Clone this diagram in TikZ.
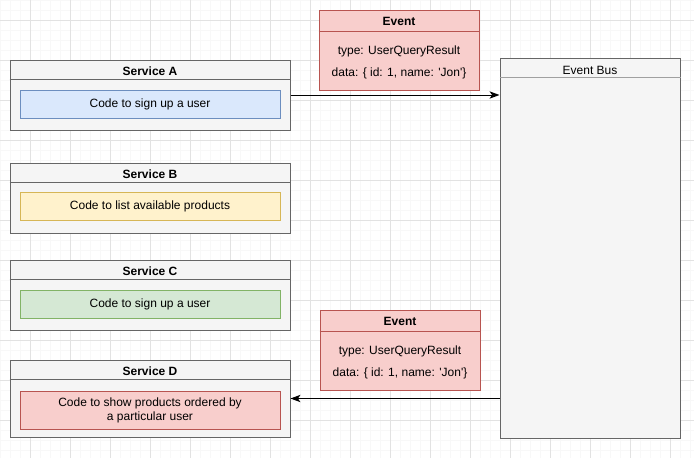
\documentclass[tikz,border=0pt]{standalone}
\usepackage{fontspec}
\setmainfont{Liberation Sans}
\usetikzlibrary{arrows.meta}

\definecolor{gridmajor}{HTML}{E2E2E2}
\definecolor{gridminor}{HTML}{F8F8F8}
\definecolor{boxfill}{HTML}{F5F5F5}
\definecolor{boxline}{HTML}{666666}
\definecolor{busline}{HTML}{A0A0A0}
\definecolor{bluefill}{HTML}{DAE8FC}
\definecolor{blueline}{HTML}{6C8EBF}
\definecolor{yellowfill}{HTML}{FFF2CC}
\definecolor{yellowline}{HTML}{D6B656}
\definecolor{greenfill}{HTML}{D5E8D4}
\definecolor{greenline}{HTML}{82B366}
\definecolor{redfill}{HTML}{F8CECC}
\definecolor{redline}{HTML}{B85450}

\tikzset{
  svcbox/.style={draw=boxline, fill=boxfill, line width=0.75pt, minimum width=210pt, minimum height=52.5pt, inner sep=0pt},
  heading/.style={font=\fontsize{9}{10.5}\selectfont\bfseries},
  bodytext/.style={font=\fontsize{9}{10.5}\selectfont},
  codebox/.style={bodytext, line width=0.75pt, minimum width=195pt, minimum height=21pt, inner sep=0pt, align=center},
  eventbox/.style={draw=redline, fill=redfill, line width=0.75pt, minimum width=120pt, minimum height=60pt, inner sep=0pt},
  msgarrow/.style={-{Stealth[length=7.5pt,width=5.5pt,inset=2pt]}, line width=0.75pt},
}

\begin{document}
\begin{tikzpicture}[x=0.75pt, y=-0.75pt]

\useasboundingbox (0,0) rectangle (694,458);

% background grid, 10px minor lines and 40px major lines
\foreach \gx in {0,10,...,690} \draw[gridminor, line width=0.75pt] (\gx,0) -- (\gx,458);
\foreach \gy in {0,10,...,450} \draw[gridminor, line width=0.75pt] (0,\gy) -- (694,\gy);
\foreach \gx in {30,70,...,670} \draw[gridmajor, line width=0.75pt] (\gx,0) -- (\gx,458);
\foreach \gy in {20,60,...,420} \draw[gridmajor, line width=0.75pt] (0,\gy) -- (694,\gy);

% services
\node[svcbox] (sa) at (150,95) {};
\draw[boxline, line width=0.75pt] ([yshift=-15pt]sa.north west) -- ([yshift=-15pt]sa.north east);
\node[heading] (sat) at (150,71) {Service A};
\node[codebox, draw=blueline, fill=bluefill] (sac) at (150,104) {\raisebox{-1pt}{Code to sign up a user}};

\node[svcbox] (sb) at (150,198) {};
\draw[boxline, line width=0.75pt] ([yshift=-15pt]sb.north west) -- ([yshift=-15pt]sb.north east);
\node[heading] (sbt) at (150,174) {Service B};
\node[codebox, draw=yellowline, fill=yellowfill] (sbc) at (150,206.5) {\raisebox{-1pt}{Code to list available products}};

\node[svcbox] (sc) at (150,295) {};
\draw[boxline, line width=0.75pt] ([yshift=-15pt]sc.north west) -- ([yshift=-15pt]sc.north east);
\node[heading] (sct) at (150,271) {Service C};
\node[codebox, draw=greenline, fill=greenfill] (scc) at (150,304) {\raisebox{-1pt}{Code to sign up a user}};

\node[svcbox, minimum height=57.75pt] (sd) at (150,398.5) {};
\draw[boxline, line width=0.75pt] ([yshift=-15pt]sd.north west) -- ([yshift=-15pt]sd.north east);
\node[heading] (sdt) at (150,371) {Service D};
\node[codebox, draw=redline, fill=redfill, minimum height=28.5pt] (sdc) at (150,410) {Code to show products ordered by\\a particular user};

% event bus
\node[svcbox, minimum width=135pt, minimum height=285pt] (bus) at (590,248) {};
\draw[busline, line width=0.75pt] ([yshift=-15pt]bus.north west) -- ([yshift=-15pt]bus.north east);
\node[bodytext] (bust) at (590,70) {Event Bus};

% events
\node[eventbox] (ea) at (399,50) {};
\draw[redline, line width=0.75pt] ([yshift=-16.5pt]ea.north west) -- ([yshift=-16.5pt]ea.north east);
\node[heading] (eat) at (399,21) {Event};
\node[bodytext] (eatype) at (399,51) {type: UserQueryResult};
\node[bodytext] (eadata) at (399,73) {data: \{ id: 1, name: \textquotesingle Jon\textquotesingle\}};

\node[eventbox] (eb) at (400,350) {};
\draw[redline, line width=0.75pt] ([yshift=-16.5pt]eb.north west) -- ([yshift=-16.5pt]eb.north east);
\node[heading] (ebt) at (400,321) {Event};
\node[bodytext] (ebtype) at (400,351) {type: UserQueryResult};
\node[bodytext] (ebdata) at (400,373) {data: \{ id: 1, name: \textquotesingle Jon\textquotesingle\}};

% messages
\draw[msgarrow] (sa.east) -- (sa.east -| bus.west);
\draw[msgarrow] (bus.west |- sd.east) -- (sd.east);

\end{tikzpicture}
\end{document}
